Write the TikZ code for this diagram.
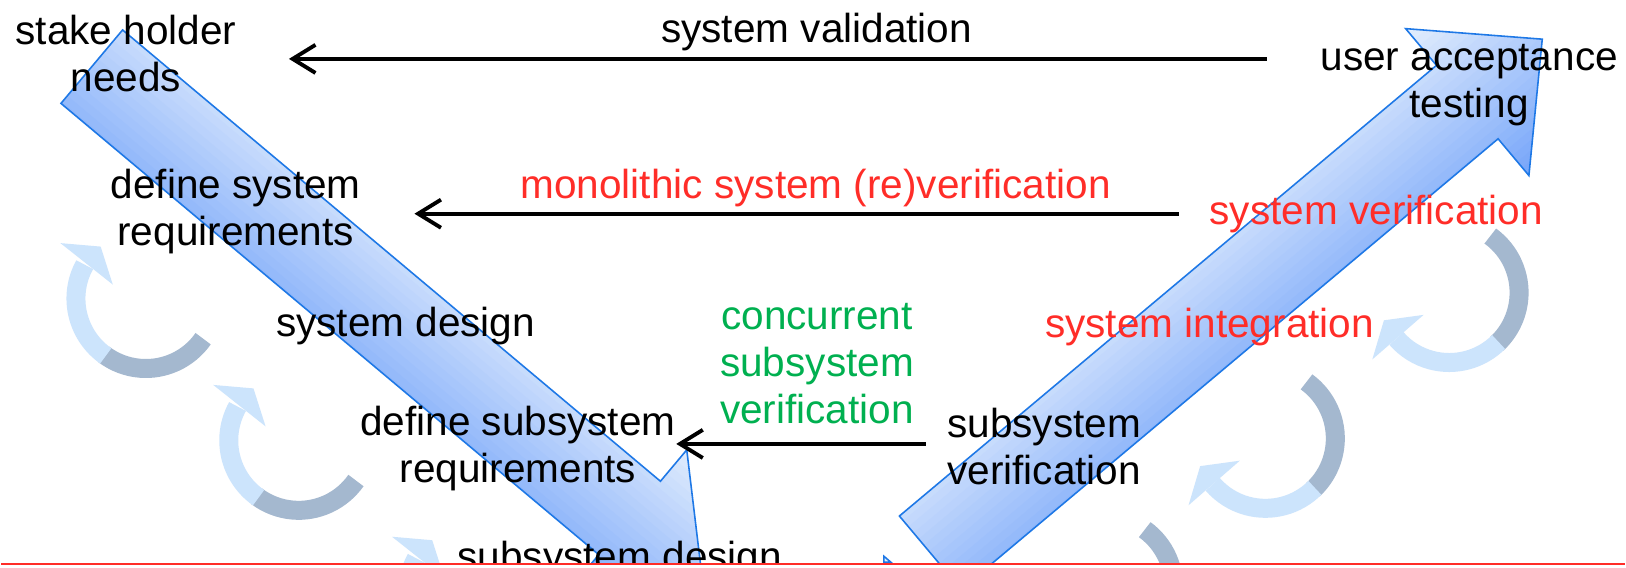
\documentclass[tikz,border=0pt]{standalone}
\usepackage{fontspec}
\setmainfont{Liberation Sans}
\usetikzlibrary{calc}
\usetikzlibrary{positioning}
\usetikzlibrary{arrows.meta}

\definecolor{bandlight}{RGB}{227,238,253}
\definecolor{banddark}{RGB}{112,161,249}
\definecolor{bandline}{RGB}{30,120,230}
\definecolor{curllight}{RGB}{204,228,252}
\definecolor{curldark}{RGB}{164,184,207}
\definecolor{slidered}{RGB}{255,45,40}
\definecolor{slidegreen}{RGB}{0,176,80}

\tikzset{
  txt/.style={inner sep=0pt, align=center, font=\fontsize{11.54}{13.37}\selectfont},
  flow/.style={-{Straight Barb[length=6.5pt,width=8pt]}, line width=1.1pt},
  bandedge/.style={draw=bandline, line width=0.45pt},
  curlband/.style={line width=0.19cm},
}

% gradient across a band, in the band's own frame
\newcommand{\bandfill}{%
  \foreach \k in {0,...,24} {
    \pgfmathtruncatemacro\mix{100-4*\k}
    \fill[bandlight!\mix!banddark] (-5,{-50+8*\k}) rectangle (810,{-41+8*\k});
  }}

% curled arrows, #1 = centre
\newcommand{\leftcurl}[1]{%
  \draw[curlband, curldark] ($(#1)+(35:70)$) arc[start angle=35, end angle=127, radius=70];
  \draw[curlband, curllight] ($(#1)+(125:70)$) arc[start angle=125, end angle=209, radius=70];
  \fill[curllight] ($(#1)+(213:102)$) -- ($(#1)+(229:69)$) -- ($(#1)+(203:36)$) -- cycle;
}
\newcommand{\rightcurl}[1]{%
  \draw[curlband, curldark] ($(#1)+(306:70)$) arc[start angle=306, end angle=407, radius=70];
  \draw[curlband, curllight] ($(#1)+(405:70)$) arc[start angle=405, end angle=499, radius=70];
  \fill[curllight] ($(#1)+(139:102)$) -- ($(#1)+(157:71)$) -- ($(#1)+(139:34)$) -- cycle;
}

\begin{document}
\begin{tikzpicture}[x=0.01cm, y=-0.01cm]
\fill[white] (0,0) rectangle (1626,568);
\begin{scope}
\clip (0,0) rectangle (1626,563);

% left leg of the V
\begin{scope}[shift={(121.7,30)}, rotate=-40]
  \begin{scope}
    \clip (0,0) -- (703,0) -- (703,-41) -- (798,48) -- (703,137) -- (703,96) -- (0,96) -- cycle;
    \bandfill
  \end{scope}
  \draw[bandedge] (0,0) -- (703,0) -- (703,-41) -- (798,48) -- (703,137) -- (703,96) -- (0,96) -- cycle;
\end{scope}

% right leg of the V
\begin{scope}[shift={(899.5,516.7)}, rotate=40]
  \begin{scope}
    \clip (0,0) -- (702,0) -- (702,-48) -- (800,48) -- (702,144) -- (702,96) -- (0,96) -- cycle;
    \bandfill
  \end{scope}
  \draw[bandedge] (0,0) -- (702,0) -- (702,-48) -- (800,48) -- (702,144) -- (702,96) -- (0,96) -- cycle;
\end{scope}
\filldraw[bandedge, fill=bandlight] (884,557) -- (891,563) -- (884,563) -- cycle;

% iteration loops
\coordinate (lc1) at (145,299);
\coordinate (lc2) at (298,441);
\coordinate (lc3) at (477,593);
\coordinate (rc1) at (1450,293);
\coordinate (rc2) at (1266,439);
\coordinate (rc3) at (1104,587);
\leftcurl{lc1}
\leftcurl{lc2}
\leftcurl{lc3}
\rightcurl{rc1}
\rightcurl{rc2}
\rightcurl{rc3}

% stages
\node[txt] (sh)   at (125,53.5)   {stake holder\\needs};
\node[txt] (ua)   at (1470,85)    {user acceptance\\testing};
\node[txt] (dsys) at (235,212)    {define system\\requirements};
\node[txt] (sd)   at (405,326)    {system design};
\node[txt] (dsr)  at (517.5,449)  {define subsystem\\requirements};
\node[txt] (ssd)  at (619.5,561)  {subsystem design};
\node[txt, text=slidered] (si) at (1210,327) {system integration};

% verification arrows
\node[txt] (sv) at (816.6,32) {system validation};
\coordinate (va) at ($(ua.west)+(-53,-26)$);
\draw[flow, shorten >=0.52cm] (va) -- (va -| sh.east);
\node[txt, text=slidered] (mono) at (815.6,188.5) {monolithic system (re)verification};
\node[txt, text=slidered] (sver) at (1377,214) {system verification};
\draw[flow, shorten <=0.3cm, shorten >=0.53cm] (sver.west) -- (sver.west -| dsys.east);
\node[txt, text=slidegreen] (csv) at (817,364.5) {concurrent\\subsystem\\verification};
\node[txt] (ssv) at (1044.5,447.5) {subsystem\\verification};
\draw[flow, shorten <=0.21cm] ([yshift=0.03cm]ssv.west) -- ([yshift=0.03cm]ssv.west -| dsr.east);
\end{scope}
\draw[slidered, line width=0.6pt] (0,564.5) -- (1626,564.5);
\end{tikzpicture}
\end{document}
